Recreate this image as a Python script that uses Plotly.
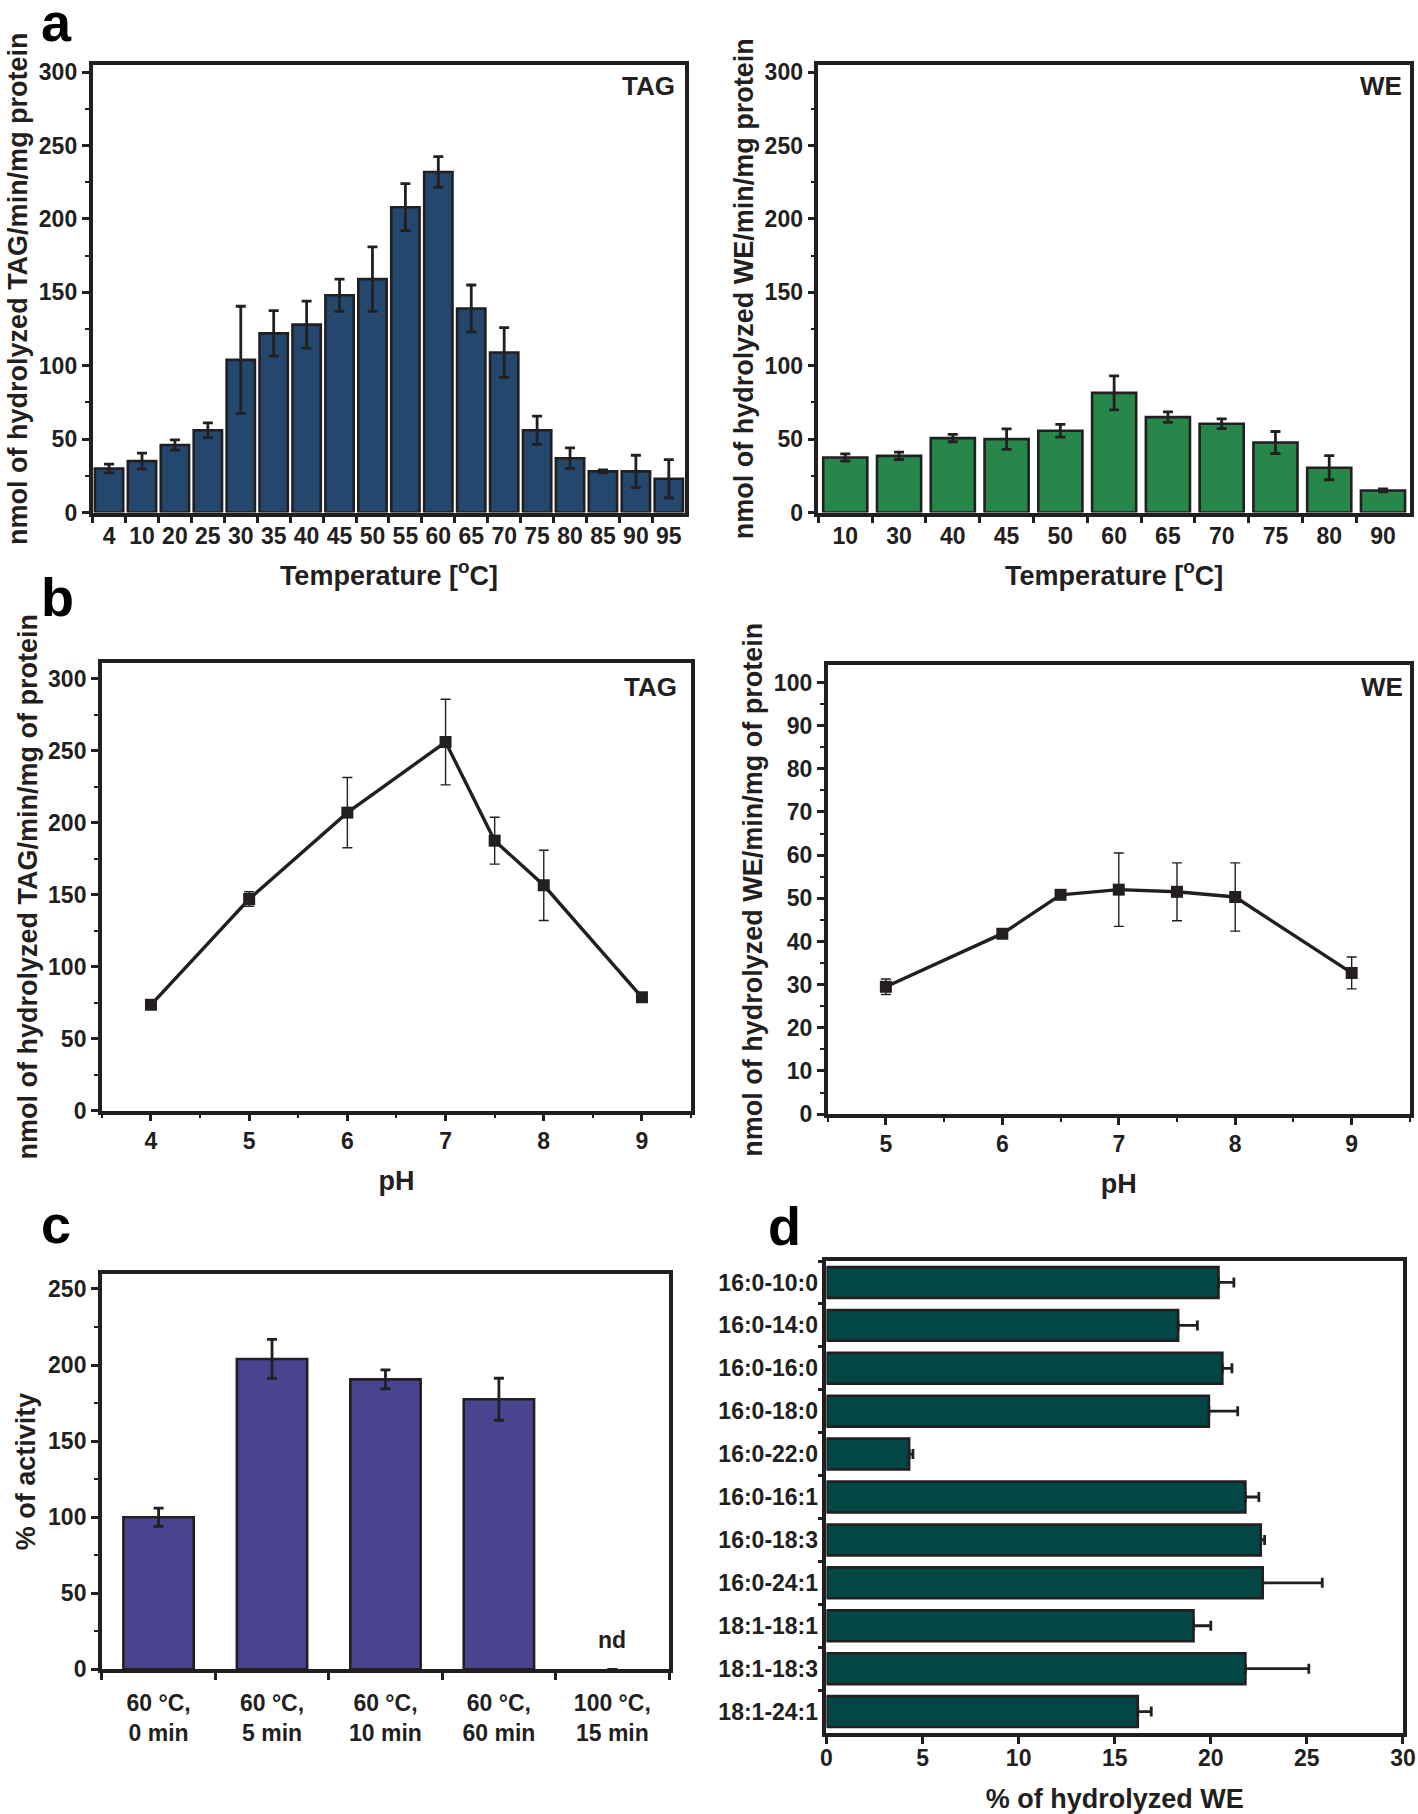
import plotly.graph_objects as go

# ---------------- data ----------------
# panel a (temperature)
tag_temp = ["4", "10", "20", "25", "30", "35", "40", "45", "50", "55", "60", "65", "70", "75", "80", "85", "90", "95"]
tag_temp_act = [30, 35, 46, 56, 104, 122, 128, 148, 159, 208, 232, 139, 109, 56, 37, 28, 28, 23]
tag_temp_err = [3, 5.5, 3.5, 5, 36.5, 15.5, 16, 11, 22, 16, 10.5, 16, 17, 9.6, 7, 1, 11, 13]

we_temp = ["10", "30", "40", "45", "50", "60", "65", "70", "75", "80", "90"]
we_temp_act = [37.5, 38.6, 50.7, 50, 55.7, 81.5, 65, 60.5, 47.7, 30.5, 15]
we_temp_err = [2.5, 2.5, 2.5, 7, 4.3, 11.6, 3.6, 3.3, 7.5, 8.2, 1]

# panel b (pH)
tag_ph = [4, 5, 6, 7, 7.5, 8, 9]
tag_ph_act = [73.5, 147, 207, 256, 187.5, 156.5, 78.7]
tag_ph_err = [0, 5, 24.4, 29.7, 16.3, 24.4, 0]

we_ph = [5, 6, 6.5, 7, 7.5, 8, 9]
we_ph_act = [29.5, 41.8, 50.8, 52.0, 51.5, 50.3, 32.7]
we_ph_err = [1.8, 0, 0, 8.5, 6.7, 7.9, 3.7]

# panel c (thermal stability); last condition not detected ("nd")
stab_cond = ["60 °C,<br>0 min", "60 °C,<br>5 min", "60 °C,<br>10 min", "60 °C,<br>60 min", "100 °C,<br>15 min"]
stab_act = [100, 204, 190.6, 177.5, 0]
stab_err = [6, 12.8, 6.2, 13.8, None]

# panel d (substrate specificity)
we_subs = ["16:0-10:0", "16:0-14:0", "16:0-16:0", "16:0-18:0", "16:0-22:0", "16:0-16:1",
           "16:0-18:3", "16:0-24:1", "18:1-18:1", "18:1-18:3", "18:1-24:1"]
we_subs_val = [20.4, 18.3, 20.6, 19.9, 4.3, 21.8, 22.6, 22.7, 19.1, 21.8, 16.2]
we_subs_err = [0.8, 1.0, 0.5, 1.5, 0.2, 0.7, 0.2, 3.1, 0.9, 3.3, 0.7]

# ---------------- style ----------------
INK = "#231f20"
C_TAG = "#24476d"
C_WE = "#27874b"
C_STAB = "#4a4490"
C_SUBS = "#034745"
FONT = "Liberation Sans, Arial, sans-serif"
TICKF = dict(size=23, color=INK)
TITLEF = dict(size=27, color=INK)

W, H = 1225.0, 1568.0  # reference proportions


def fx(v):
    return v / W


def fy(v):
    return 1 - v / H


def axis_common(**kw):
    d = dict(showline=True, linewidth=3.6, linecolor=INK, mirror=True,
             ticks="outside", ticklen=7, tickwidth=2.5, tickcolor=INK,
             showgrid=False, zeroline=False, tickfont=TICKF, tickangle=0,
             automargin=False)
    d.update(kw)
    return d


def minor(step):
    return dict(ticks="outside", ticklen=4, tickwidth=2, dtick=step, tickcolor=INK)


fig = go.Figure()

bar_line = dict(color=INK, width=2.6)
err_thick = dict(type="data", thickness=2.8, width=5, color=INK)

# a: TAG temperature
fig.add_trace(go.Bar(x=tag_temp, y=tag_temp_act, width=0.86,
                     marker=dict(color=C_TAG, line=bar_line),
                     error_y=dict(array=tag_temp_err, **err_thick), xaxis="x", yaxis="y"))
# a: WE temperature
fig.add_trace(go.Bar(x=we_temp, y=we_temp_act, width=0.82,
                     marker=dict(color=C_WE, line=bar_line),
                     error_y=dict(array=we_temp_err, **err_thick), xaxis="x2", yaxis="y2"))
# b: TAG pH
fig.add_trace(go.Scatter(x=tag_ph, y=tag_ph_act, mode="lines+markers",
                         line=dict(color=INK, width=3.4),
                         marker=dict(symbol="square", size=12, color=INK),
                         error_y=dict(type="data", array=tag_ph_err, thickness=1.4, width=5, color=INK),
                         xaxis="x3", yaxis="y3"))
# b: WE pH
fig.add_trace(go.Scatter(x=we_ph, y=we_ph_act, mode="lines+markers",
                         line=dict(color=INK, width=3.4),
                         marker=dict(symbol="square", size=12, color=INK),
                         error_y=dict(type="data", array=we_ph_err, thickness=1.4, width=5, color=INK),
                         xaxis="x4", yaxis="y4"))
# c: stability (the not-detected bar is drawn invisibly)
fig.add_trace(go.Bar(x=stab_cond, y=stab_act, width=0.62,
                     marker=dict(color=[C_STAB if v > 0 else "rgba(0,0,0,0)" for v in stab_act],
                                 line=dict(color=INK, width=[2.6 if v > 0 else 0 for v in stab_act])),
                     error_y=dict(array=stab_err, **err_thick), xaxis="x5", yaxis="y5"))
# d: substrates
fig.add_trace(go.Bar(y=we_subs, x=we_subs_val, orientation="h", width=0.72,
                     marker=dict(color=C_SUBS, line=bar_line),
                     error_x=dict(array=we_subs_err, arrayminus=[0] * len(we_subs_err), **err_thick),
                     xaxis="x6", yaxis="y6"))

temp_title = dict(text="Temperature [<sup>o</sup>C]", font=TITLEF, standoff=19)
ph_title = dict(text="pH", font=TITLEF, standoff=19)

fig.update_layout(
    width=1418, height=1814,
    margin=dict(l=0, r=0, t=0, b=0, autoexpand=False),
    paper_bgcolor="white", plot_bgcolor="white",
    showlegend=False,
    font=dict(family=FONT, weight="bold", color=INK),
    # panel a left
    xaxis=axis_common(domain=[fx(80), fx(592)], anchor="y", type="category", tickson="boundaries",
                      title=temp_title),
    yaxis=axis_common(domain=[fy(443), fy(56)], anchor="x", range=[0, 305], dtick=50, minor=minor(25),
                      title=dict(text="nmol of hydrolyzed TAG/min/mg protein", font=TITLEF, standoff=4)),
    # panel a right
    xaxis2=axis_common(domain=[fx(707), fx(1218)], anchor="y2", type="category", tickson="boundaries",
                       title=temp_title),
    yaxis2=axis_common(domain=[fy(443), fy(56)], anchor="x2", range=[0, 305], dtick=50, minor=minor(25),
                       title=dict(text="nmol of hydrolyzed WE/min/mg protein", font=TITLEF, standoff=4)),
    # panel b left
    xaxis3=axis_common(domain=[fx(88), fx(597)], anchor="y3", range=[3.5, 9.5], dtick=1, minor=minor(0.5),
                       title=ph_title),
    yaxis3=axis_common(domain=[fy(960), fy(573)], anchor="x3", range=[0, 311], dtick=50, minor=minor(25),
                       title=dict(text="nmol of hydrolyzed TAG/min/mg of protein", font=TITLEF, standoff=4)),
    # panel b right
    xaxis4=axis_common(domain=[fx(715), fx(1218)], anchor="y4", range=[4.5, 9.5], dtick=1, minor=minor(0.5),
                       title=ph_title),
    yaxis4=axis_common(domain=[fy(963), fy(575)], anchor="x4", range=[0, 104], dtick=10, minor=minor(5),
                       title=dict(text="nmol of hydrolyzed WE/min/mg of protein", font=TITLEF, standoff=4)),
    # panel c
    xaxis5=axis_common(domain=[fx(88), fx(578)], anchor="y5", type="category", tickson="boundaries",
                       ticklabelstandoff=10),
    yaxis5=axis_common(domain=[fy(1443), fy(1101)], anchor="x5", range=[0, 260], dtick=50, minor=minor(25),
                       title=dict(text="% of activity", font=TITLEF, standoff=6)),
    # panel d
    xaxis6=axis_common(domain=[fx(714), fx(1212)], anchor="y6", range=[0, 30], dtick=5,
                       ticklabelstandoff=-5,
                       title=dict(text="% of hydrolyzed WE", font=TITLEF, standoff=22)),
    yaxis6=axis_common(domain=[fy(1498), fy(1090)], anchor="x6", type="category", tickson="boundaries",
                       autorange="reversed", ticklen=5),
)

ann = []
# panel letters
for letter, x, y in [("a", 34, 19), ("b", 34, 516), ("c", 34, 1058), ("d", 662, 1060)]:
    ann.append(dict(text=letter, x=fx(x), y=fy(y), xref="paper", yref="paper", showarrow=False,
                    font=dict(size=54, color="black", family=FONT), xanchor="left", yanchor="middle"))
# substrate labels inside panels
for txt, x, y in [("TAG", 585, 74), ("WE", 1213, 74), ("TAG", 587, 594), ("WE", 1214, 594)]:
    ann.append(dict(text=txt, x=fx(x), y=fy(y), xref="paper", yref="paper", showarrow=False,
                    font=dict(size=26, color=INK, family=FONT), xanchor="right", yanchor="middle"))
# nd label
ann.append(dict(text="nd", x=stab_cond[4], y=19, xref="x5", yref="y5", showarrow=False,
                font=dict(size=23, color=INK, family=FONT)))
fig.update_layout(annotations=ann)

fig.write_html("out.html", config={"displayModeBar": False},
               post_script="document.body.style.margin='0px';document.body.style.overflow='hidden';")
